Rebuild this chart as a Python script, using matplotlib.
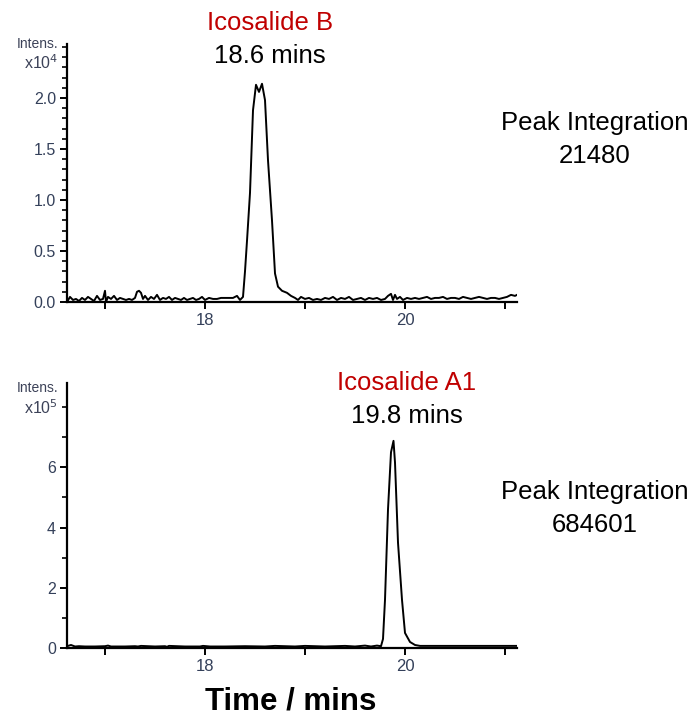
import matplotlib
matplotlib.use("Agg")
import matplotlib.pyplot as plt
from matplotlib.ticker import MultipleLocator, FixedLocator

plt.rcParams['font.family'] = ['Liberation Sans', 'DejaVu Sans']

# ---- Data: Icosalide B chromatogram (intensity x10^4) ----
b_time = [16.62, 16.65, 16.68, 16.71, 16.74, 16.77, 16.80, 16.83, 16.86, 16.89,
          16.92, 16.95, 16.98, 17.00, 17.01, 17.03, 17.06, 17.09, 17.12, 17.15,
          17.18, 17.21, 17.24, 17.27, 17.30, 17.32, 17.34, 17.36, 17.38, 17.40,
          17.43, 17.46, 17.49, 17.52, 17.55, 17.58, 17.61, 17.64, 17.67, 17.70,
          17.73, 17.76, 17.79, 17.82, 17.85, 17.88, 17.91, 17.94, 17.97, 18.00,
          18.04, 18.08, 18.12, 18.16, 18.20, 18.24, 18.28, 18.32, 18.35, 18.38,
          18.40, 18.42, 18.45, 18.48, 18.51, 18.54, 18.57, 18.60, 18.63, 18.67,
          18.70, 18.73, 18.77, 18.82, 18.86, 18.90, 18.93, 18.96, 19.00, 19.04,
          19.08, 19.12, 19.16, 19.20, 19.24, 19.28, 19.32, 19.36, 19.40, 19.44,
          19.48, 19.52, 19.56, 19.60, 19.64, 19.68, 19.72, 19.76, 19.80, 19.83,
          19.86, 19.88, 19.90, 19.92, 19.95, 19.98, 20.02, 20.06, 20.10, 20.14,
          20.18, 20.22, 20.26, 20.30, 20.34, 20.38, 20.42, 20.46, 20.50, 20.54,
          20.58, 20.62, 20.66, 20.70, 20.74, 20.78, 20.82, 20.86, 20.90, 20.94,
          20.98, 21.02, 21.06, 21.10, 21.12]
b_int = [0.00, 0.05, 0.02, 0.03, 0.01, 0.04, 0.02, 0.05, 0.03, 0.01,
         0.06, 0.02, 0.03, 0.11, 0.00, 0.05, 0.03, 0.06, 0.02, 0.04,
         0.03, 0.02, 0.03, 0.02, 0.04, 0.10, 0.11, 0.09, 0.03, 0.06,
         0.02, 0.05, 0.03, 0.07, 0.02, 0.04, 0.03, 0.05, 0.02, 0.04,
         0.03, 0.02, 0.04, 0.02, 0.03, 0.04, 0.02, 0.03, 0.05, 0.02,
         0.04, 0.03, 0.03, 0.04, 0.04, 0.04, 0.04, 0.06, 0.02, 0.05,
         0.30, 0.60, 1.07, 1.88, 2.13, 2.06, 2.14, 1.98, 1.39, 0.80,
         0.28, 0.15, 0.11, 0.09, 0.06, 0.04, 0.02, 0.05, 0.03, 0.04,
         0.02, 0.03, 0.02, 0.04, 0.03, 0.05, 0.02, 0.04, 0.03, 0.05,
         0.02, 0.03, 0.04, 0.02, 0.04, 0.03, 0.04, 0.02, 0.03, 0.06,
         0.08, 0.02, 0.07, 0.03, 0.05, 0.02, 0.04, 0.03, 0.04, 0.03,
         0.04, 0.05, 0.03, 0.04, 0.04, 0.05, 0.03, 0.04, 0.04, 0.03,
         0.05, 0.04, 0.03, 0.04, 0.05, 0.04, 0.03, 0.04, 0.04, 0.03,
         0.04, 0.05, 0.07, 0.06, 0.07]

# ---- Data: Icosalide A1 chromatogram (intensity x10^5) ----
a_time = [16.62, 16.66, 16.70, 16.74, 16.80, 16.90, 17.00, 17.03, 17.06, 17.20,
          17.30, 17.33, 17.36, 17.50, 17.60, 17.62, 17.64, 17.80, 17.95, 17.98,
          18.05, 18.20, 18.40, 18.60, 18.70, 18.80, 18.90, 19.00, 19.10, 19.20,
          19.30, 19.40, 19.50, 19.60, 19.66, 19.72, 19.76, 19.78, 19.80, 19.83,
          19.86, 19.885, 19.90, 19.93, 19.97, 20.00, 20.05, 20.10, 20.15, 20.30,
          20.50, 20.70, 20.90, 21.12]
a_int = [0.06, 0.10, 0.05, 0.06, 0.05, 0.05, 0.06, 0.08, 0.05, 0.05,
         0.06, 0.05, 0.07, 0.05, 0.06, 0.04, 0.07, 0.05, 0.05, 0.07,
         0.05, 0.05, 0.06, 0.05, 0.07, 0.06, 0.05, 0.07, 0.06, 0.05,
         0.06, 0.07, 0.05, 0.08, 0.05, 0.08, 0.06, 0.30, 1.60, 4.60,
         6.50, 6.88, 6.16, 3.50, 1.60, 0.50, 0.20, 0.10, 0.07, 0.07,
         0.07, 0.07, 0.07, 0.07]

x_ticks = [17, 18, 19, 20, 21]
x_tick_labels = ['', '18', '', '20', '']

W, H = 697, 718
fig = plt.figure(figsize=(W / 100, H / 100), dpi=100)

tick_color = '#34405a'


def px(x, y):
    return x / W, 1 - y / H


def style_axes(ax):
    for s in ['top', 'right']:
        ax.spines[s].set_visible(False)
    for s in ['left', 'bottom']:
        ax.spines[s].set_linewidth(1.6)
    ax.set_xlim(16.62, 21.12)
    ax.xaxis.set_major_locator(FixedLocator(x_ticks))
    ax.set_xticklabels(x_tick_labels)
    ax.tick_params(axis='both', which='major', direction='out', length=5, width=1.4,
                   labelsize=11.5, labelcolor=tick_color, pad=3)
    ax.tick_params(axis='x', which='major', labelsize=12)
    ax.tick_params(axis='y', which='minor', direction='out', length=3.5, width=1.2)


# top panel
ax1 = fig.add_axes([67 / W, 1 - 302 / H, 450 / W, (302 - 44) / H])
ax1.plot(b_time, b_int, color='black', lw=1.4)
ax1.set_ylim(0, 2.53)
ax1.yaxis.set_major_locator(FixedLocator([0, 0.5, 1.0, 1.5, 2.0]))
ax1.set_yticklabels(['0.0', '0.5', '1.0', '1.5', '2.0'])
ax1.yaxis.set_minor_locator(MultipleLocator(0.1))
style_axes(ax1)

# bottom panel
ax2 = fig.add_axes([67 / W, 1 - 648 / H, 450 / W, (648 - 383) / H])
ax2.plot(a_time, a_int, color='black', lw=1.4)
ax2.set_ylim(0, 8.8)
ax2.yaxis.set_major_locator(FixedLocator([0, 2, 4, 6]))
ax2.yaxis.set_minor_locator(FixedLocator([1, 3, 5, 7, 8]))
style_axes(ax2)

# axis unit labels
lab_c = '#3c4258'
fig.text(*px(58, 44), 'Intens.', ha='right', va='center', fontsize=10, color=lab_c)
fig.text(*px(58, 63), r'x10$^4$', ha='right', va='center', fontsize=11.5, color=lab_c)
fig.text(*px(58, 388), 'Intens.', ha='right', va='center', fontsize=10, color=lab_c)
fig.text(*px(58, 408), r'x10$^5$', ha='right', va='center', fontsize=11.5, color=lab_c)

# annotations
red = '#c00000'
fs = 18.5
fig.text(*px(270, 23), 'Icosalide B', ha='center', va='center', fontsize=fs, color=red)
fig.text(*px(270, 56), '18.6 mins', ha='center', va='center', fontsize=fs, color='black')
fig.text(*px(595, 123), 'Peak Integration', ha='center', va='center', fontsize=fs)
fig.text(*px(595, 156), '21480', ha='center', va='center', fontsize=fs)

fig.text(*px(407, 383), 'Icosalide A1', ha='center', va='center', fontsize=fs, color=red)
fig.text(*px(407, 416), '19.8 mins', ha='center', va='center', fontsize=fs, color='black')
fig.text(*px(595, 492), 'Peak Integration', ha='center', va='center', fontsize=fs)
fig.text(*px(595, 525), '684601', ha='center', va='center', fontsize=fs)

fig.text(*px(291, 701), 'Time / mins', ha='center', va='center', fontsize=22.5, fontweight='bold')

fig.savefig('out.png', dpi=100)
